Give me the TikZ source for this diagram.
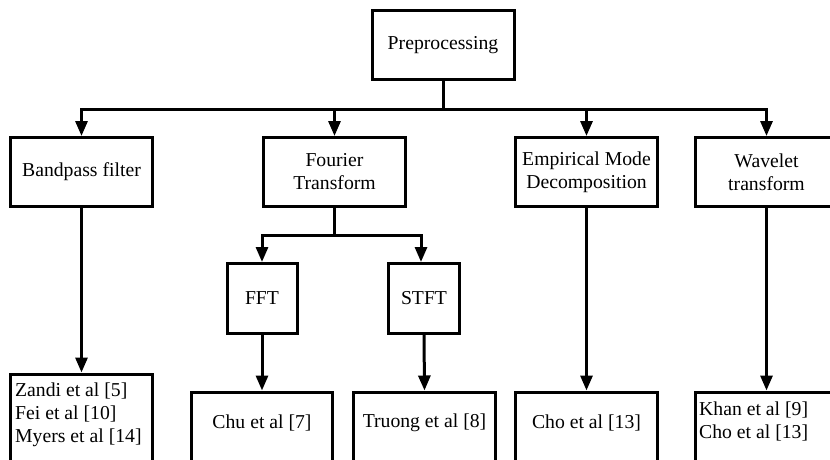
\documentclass[tikz,border=0pt]{standalone}
\usepackage{fontspec}
\setmainfont{Liberation Serif}
\usetikzlibrary{arrows.meta,calc}
\begin{document}
\begin{tikzpicture}[x=1pt,y=-1pt,
  box/.style={draw=black,line width=3pt,inner sep=0pt,align=center,
    font=\fontsize{19.7}{23}\selectfont,text=black},
  lbox/.style={box,align=left,text width=#1},
  arr/.style={line width=3pt,-{Triangle[length=15pt,width=12pt]}},
  ln/.style={line width=3pt}]
\useasboundingbox (0,0) rectangle (830,460);
\clip (0,0) rectangle (830,460);
% top
\node[box,minimum width=142pt,minimum height=69pt] (pre) at (443,45.5) {Preprocessing};
% level 1
\node[box,minimum width=142pt,minimum height=69pt] (band) at (81.5,172) {Bandpass filter};
\node[box,minimum width=142pt,minimum height=69pt] (four) at (334.5,172) {Fourier\\Transform};
\node[box,minimum width=142pt,minimum height=69pt] (emd) at (586.5,172) {Empirical Mode\\Decomposition};
\node[box,minimum width=142pt,minimum height=69pt] (wave) at (766.5,172) {Wavelet\\transform};
% level 2
\node[box,minimum width=70pt,minimum height=70pt] (fft) at (262,298.5) {FFT};
\node[box,minimum width=71pt,minimum height=70pt] (stft) at (424,298.5) {STFT};
% bottom
\node[box,minimum width=142pt,minimum height=92pt,anchor=north] (zandi) at (81.5,372.5) {};
\node[anchor=west,align=left,inner sep=0pt,font=\fontsize{19.7}{23}\selectfont] (zt) at (15,414.5) {Zandi et al [5]\\Fei et al [10]\\Myers et al [14]};
\node[box,minimum width=141pt,minimum height=70pt,anchor=north] (chu) at (262,390.5) {};
\node[inner sep=0pt,font=\fontsize{19.7}{23}\selectfont] (chut) at (262,423) {Chu et al [7]};
\node[box,minimum width=142pt,minimum height=70pt,anchor=north] (truong) at (424.5,390.5) {};
\node[inner sep=0pt,font=\fontsize{19.7}{23}\selectfont] (truongt) at (424.5,423) {Truong et al [8]};
\node[box,minimum width=142pt,minimum height=70pt,anchor=north] (cho) at (586.5,390.5) {};
\node[inner sep=0pt,font=\fontsize{19.7}{23}\selectfont] (chot) at (586.5,423) {Cho et al [13]};
\node[box,minimum width=142pt,minimum height=70pt,anchor=north] (khan) at (766.5,390.5) {};
\node[anchor=west,align=left,inner sep=0pt,font=\fontsize{19.7}{23}\selectfont] (khant) at (699,421) {Khan et al [9]\\Cho et al [13]};
% bus coordinates
\coordinate (bus) at (443,109);
\coordinate (bus2) at (334.5,235);
% connectors
\draw[arr] (pre.south) -- (bus) -| (band.north);
\draw[arr] (pre.south) -- (bus) -| (four.north);
\draw[arr] (pre.south) -- (bus) -| (emd.north);
\draw[arr] (pre.south) -- (bus) -| (wave.north);
\draw[arr] (four.south) -- (bus2) -| (fft.north);
\draw[arr] (four.south) -- (bus2) -| ([xshift=-3pt]stft.north);
\draw[arr] (band.south) -- (zandi.north);
\draw[arr] (fft.south) -- (chu.north);
\draw[arr] (stft.south) -- (truong.north);
\draw[arr] (emd.south) -- (cho.north);
\draw[arr] (wave.south) -- (khan.north);
\end{tikzpicture}
\end{document}
